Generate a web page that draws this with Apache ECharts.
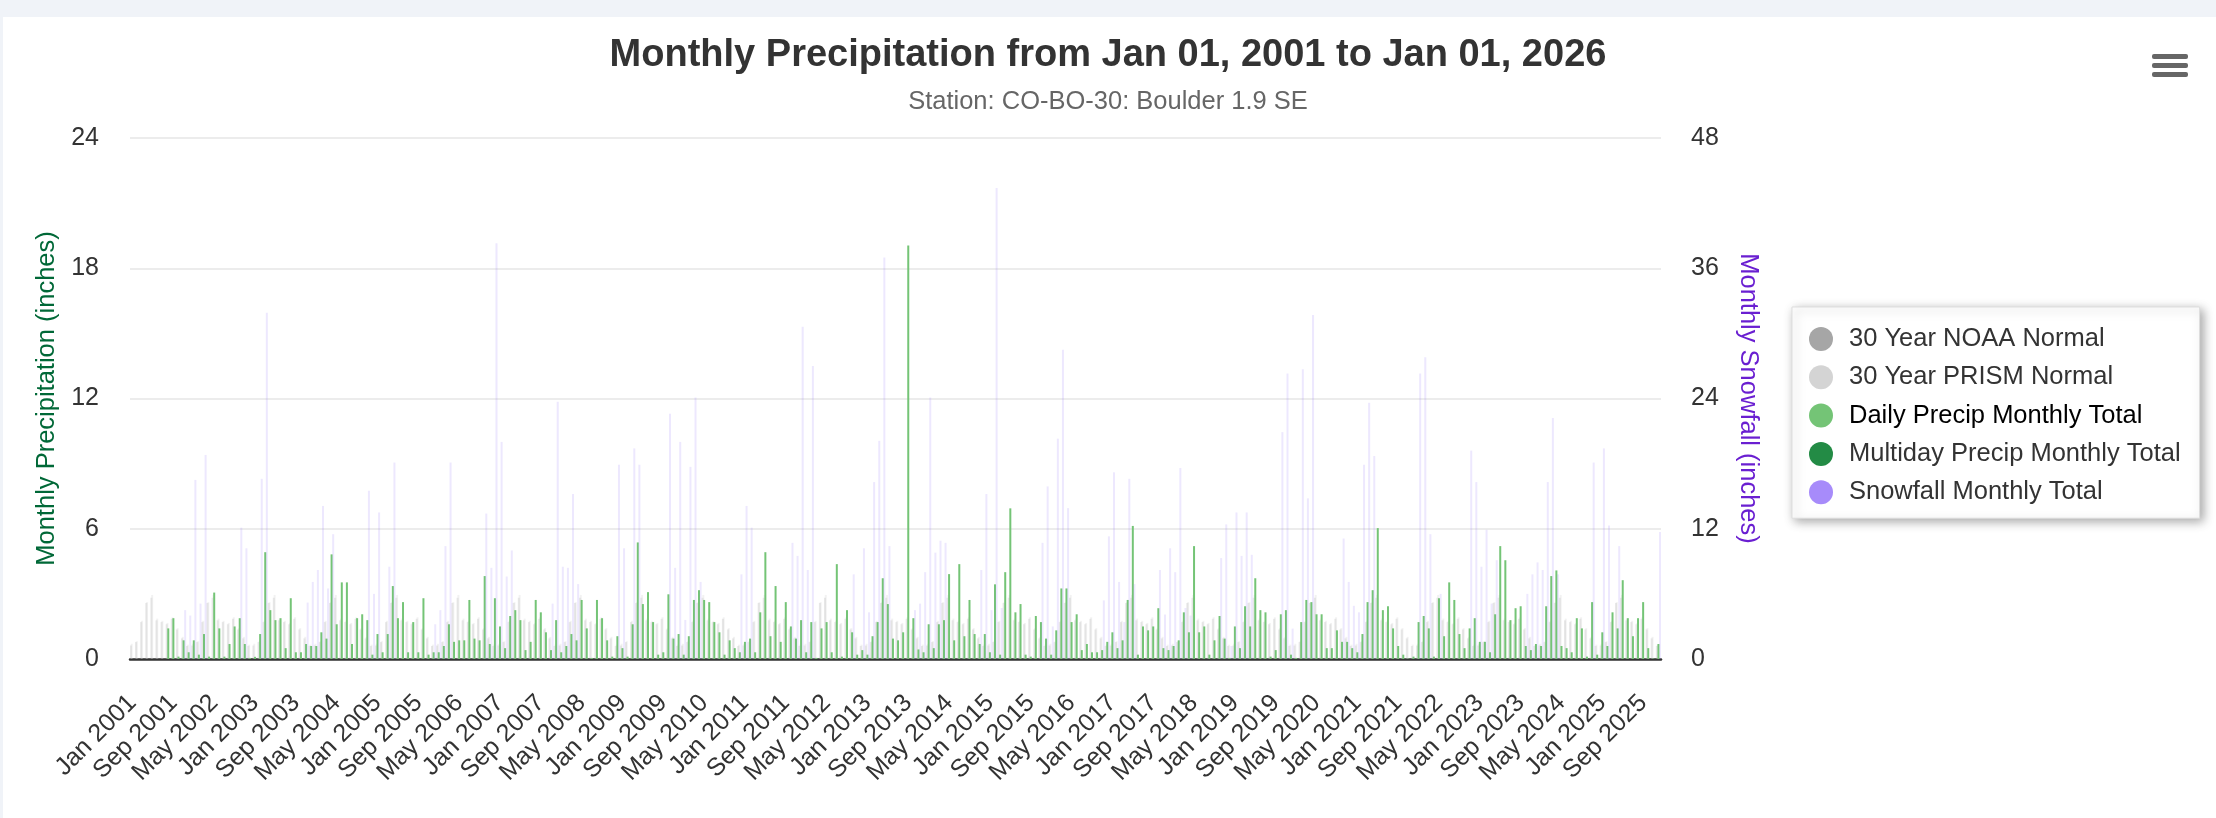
<!DOCTYPE html>
<html lang="en" style="height: 100%; width: 100%; overflow: hidden">
<head>
    <meta charset="UTF-8">
    <title>Monthly Precipitation</title>
    <script type="text/javascript" src="https://cdn.jsdelivr.net/npm/echarts@6/dist/echarts.min.js"></script>
</head>
<body style="height: 100%; width: 100%; margin: 0; background: #fff">
<div id="container" style="height: 818px; width: 2216px"></div>
</body>
</html>

<script type="text/javascript">

    var monthNames = ['Jan', 'Feb', 'Mar', 'Apr', 'May', 'Jun', 'Jul', 'Aug', 'Sep', 'Oct', 'Nov', 'Dec'];
    var years = [2001, 2002, 2003, 2004, 2005, 2006, 2007, 2008, 2009, 2010, 2011, 2012, 2013,
        2014, 2015, 2016, 2017, 2018, 2019, 2020, 2021, 2022, 2023, 2024, 2025];

    // 30 year normals, one value per calendar month (inches)
    var noaaNormal = [0.62, 0.78, 1.70, 2.58, 2.82, 1.78, 1.70, 1.60, 1.85, 1.36, 0.95, 0.60];
    var prismNormal = [0.70, 0.82, 1.76, 2.62, 2.95, 1.86, 1.76, 1.66, 1.92, 1.42, 1.02, 0.66];

    // daily precip monthly totals, one row per year (inches)
    var dailyPrecip = [
        null, null, null, null, null, null, null, 1.41, 1.88, 0.11, 0.86, 0.31,
        0.86, 0.20, 1.15, 0.11, 3.06, 1.41, 0.11, 0.69, 1.50, 1.88, 0.69, 0.05,
        0.10, 1.15, 4.92, 2.25, 1.79, 1.88, 0.50, 2.80, 0.31, 0.31, 0.69, 0.60,
        0.60, 1.23, 0.94, 4.82, 1.60, 3.53, 3.53, 0.69, 1.88, 2.06, 1.79, 0.20,
        1.15, 0.31, 1.15, 3.36, 1.88, 2.62, 0.31, 1.70, 0.31, 2.80, 0.20, 0.31,
        0.31, 0.60, 1.60, 0.79, 0.86, 0.86, 2.72, 0.94, 0.86, 3.82, 0.69, 2.80,
        1.50, 0.50, 1.98, 2.25, 1.79, 0.41, 0.79, 2.72, 2.15, 1.23, 0.41, 1.79,
        0.31, 0.60, 1.15, 0.86, 2.72, 1.41, 0.05, 2.72, 1.88, 0.86, 0.11, 1.05,
        0.50, 0.11, 1.60, 5.37, 2.53, 3.08, 1.70, 0.20, 0.31, 2.98, 0.94, 1.15,
        0.20, 1.05, 2.72, 3.17, 2.72, 2.62, 1.70, 1.23, 0.20, 0.86, 0.50, 0.31,
        0.79, 0.94, 0.31, 2.15, 4.92, 1.05, 3.36, 0.79, 2.62, 1.50, 0.94, 1.79,
        0.31, 1.70, 0.05, 1.41, 1.70, 0.31, 4.37, 0.11, 2.25, 1.23, 0.20, 0.41,
        0.20, 1.05, 1.70, 3.72, 2.53, 0.94, 0.86, 1.23, 19.05, 1.88, 0.44, 0.31,
        1.60, 0.50, 1.60, 1.79, 3.91, 0.86, 4.37, 1.05, 2.72, 1.15, 0.69, 1.15,
        0.31, 3.44, 0.20, 4.00, 6.94, 2.15, 2.53, 0.20, 0.11, 1.98, 1.70, 0.94,
        0.20, 1.32, 3.25, 3.25, 1.70, 2.06, 0.41, 0.69, 0.31, 0.31, 0.41, 0.79,
        1.23, 0.50, 0.86, 2.72, 6.13, 0.20, 1.50, 1.32, 1.50, 2.34, 0.50, 0.41,
        0.60, 0.86, 2.15, 1.23, 5.20, 1.23, 1.50, 0.20, 0.86, 1.98, 0.94, 0.05,
        1.50, 0.50, 2.43, 1.50, 3.72, 2.25, 2.15, 0.11, 0.41, 2.06, 2.25, 0.20,
        0.05, 1.70, 2.72, 2.62, 2.06, 2.06, 0.50, 0.50, 1.32, 0.79, 0.79, 0.50,
        0.31, 1.15, 2.62, 3.17, 6.03, 2.25, 2.43, 1.41, 0.60, 0.20, 0.02, 0.11,
        1.70, 1.98, 1.41, 0.11, 2.80, 1.05, 3.53, 2.72, 1.15, 0.50, 1.41, 1.88,
        0.79, 0.79, 0.31, 2.06, 5.20, 4.55, 1.79, 2.34, 2.43, 0.60, 0.41, 0.69,
        0.60, 2.43, 3.82, 4.08, 0.60, 0.50, 0.31, 1.88, 1.41, 0.11, 2.62, 0.20,
        1.23, 0.60, 2.15, 1.41, 3.63, 1.88, 1.05, 1.88, 2.62, 0.50, 0.02, 0.69
    ];

    // multiday precip monthly totals (none reported in this period)
    var multidayPrecip = [];

    // snowfall monthly totals, one row per year (inches)
    var snowfall = [
        0, 0, 0, 0, 0, 0, 0, 0, 0, 0, 4.5, 4.0,
        16.5, 5.1, 18.8, 0, 0, 0, 0, 0, 0, 12.1, 10.2, 0,
        0, 16.6, 31.9, 0, 0, 0, 0, 0, 0, 0, 5.2, 7.1,
        8.2, 14.1, 6.5, 11.5, 0, 0, 0, 0, 0, 0, 15.5, 6.0,
        13.5, 0, 8.5, 18.1, 0, 0, 0, 0, 0, 0, 0, 3.2,
        4.5, 10.4, 18.1, 0, 0, 0, 0, 0, 0, 13.4, 8.4, 38.3,
        20.0, 7.6, 10.0, 0, 0, 0, 0, 0, 0, 0, 5.1, 23.7,
        8.5, 8.4, 15.2, 6.9, 0, 0, 0, 0, 0, 0, 0, 17.9,
        10.2, 0, 19.4, 17.9, 0, 0, 0, 0, 0, 22.6, 8.4, 20.0,
        3.6, 17.7, 24.1, 7.1, 0, 0, 0, 0, 0, 0, 0, 7.8,
        14.1, 12.1, 0, 0, 0, 0, 0, 0, 0, 10.7, 9.5, 30.6,
        8.2, 27.0, 0, 0, 0, 0, 0, 0, 0, 7.8, 0, 10.2,
        4.3, 16.3, 20.1, 37.0, 10.4, 0, 0, 0, 0, 4.5, 5.1, 8.0,
        24.1, 9.8, 10.9, 10.7, 0, 0, 0, 0, 0, 0, 8.2, 15.2,
        4.5, 43.4, 4.7, 0, 0, 0, 0, 0, 0, 0, 10.7, 15.9,
        3.0, 20.3, 28.5, 13.9, 0, 0, 0, 0, 0, 0, 5.4, 11.3,
        17.2, 7.1, 3.4, 16.6, 6.9, 0, 0, 0, 0, 8.2, 4.1, 10.2,
        8.0, 17.6, 4.7, 4.0, 0, 0, 0, 0, 0, 9.3, 12.4, 1.2,
        13.5, 9.5, 13.5, 9.6, 0, 0, 0, 0, 0, 20.9, 26.3, 2.8,
        0, 26.7, 14.8, 31.7, 0, 0, 0, 0, 0, 11.1, 7.1, 4.9,
        4.3, 17.9, 23.6, 18.7, 0, 0, 0, 0, 0, 0, 0, 0,
        26.3, 27.8, 11.5, 0, 6.0, 0, 0, 0, 0, 0, 19.2, 16.3,
        8.5, 11.9, 5.1, 9.1, 0, 0, 0, 0, 0, 6.0, 7.8, 8.9,
        8.2, 16.3, 22.2, 7.8, 0, 0, 0, 0, 0, 0, 18.1, 0,
        19.4, 12.3, 0, 10.4, 0, 0, 0, 0, 0, 0, 0, 11.7
    ];

    var categories = [];
    var noaaData = [];
    var prismData = [];
    years.forEach(function (y) {
        monthNames.forEach(function (m, i) {
            categories.push(m + ' ' + y);
            noaaData.push(noaaNormal[i]);
            prismData.push(prismNormal[i]);
        });
    });

    var font = 'Liberation Sans, Arial, Helvetica, sans-serif';

    var dom = document.getElementById("container");
    var myChart = echarts.init(dom);

    var option = {
        animation: false,
        backgroundColor: '#fff',
        textStyle: {fontFamily: font},
        title: [{
            text: 'Monthly Precipitation from Jan 01, 2001 to Jan 01, 2026',
            left: 'center',
            top: 37,
            padding: 0,
            textStyle: {fontSize: 38, fontWeight: 'bold', color: '#333', fontFamily: font}
        }, {
            text: 'Station: CO-BO-30: Boulder 1.9 SE',
            left: 'center',
            top: 89,
            padding: 0,
            textStyle: {fontSize: 25.5, fontWeight: 'normal', color: '#666', fontFamily: font}
        }],
        legend: {
            orient: 'vertical',
            left: 1792,
            top: 307,
            padding: [19, 19, 13, 17],
            itemGap: 12.3,
            itemWidth: 24,
            itemHeight: 24,
            icon: 'circle',
            selectedMode: false,
            backgroundColor: '#fff',
            borderColor: '#dddddd',
            borderWidth: 1,
            shadowBlur: 10,
            shadowColor: 'rgba(0, 0, 0, 0.35)',
            shadowOffsetX: 3,
            shadowOffsetY: 3,
            textStyle: {fontSize: 25.5, color: '#333', fontFamily: font, padding: [0, 0, 0, 11]},
            data: [
                {name: '30 Year NOAA Normal', itemStyle: {color: '#a6a6a6', opacity: 1}},
                {name: '30 Year PRISM Normal', itemStyle: {color: '#d4d4d4', opacity: 1}},
                {name: 'Daily Precip Monthly Total', itemStyle: {color: '#74c476', opacity: 1},
                    textStyle: {color: '#000'}},
                {name: 'Multiday Precip Monthly Total', itemStyle: {color: '#238b45', opacity: 1}},
                {name: 'Snowfall Monthly Total', itemStyle: {color: '#a78bfa', opacity: 1}}
            ]
        },
        grid: {
            left: 130,
            right: 555,
            top: 138,
            bottom: 159,
            outerBoundsMode: 'none'
        },
        xAxis: {
            type: 'category',
            data: categories,
            axisLine: {lineStyle: {color: '#333', width: 2.5}},
            axisTick: {show: false},
            axisLabel: {
                interval: 7,
                rotate: 45,
                fontSize: 25,
                color: '#333',
                margin: 40,
                fontFamily: font
            },
            splitLine: {show: false}
        },
        yAxis: [{
            type: 'value',
            min: 0,
            max: 24,
            interval: 6,
            name: 'Monthly Precipitation (inches)',
            nameLocation: 'middle',
            nameGap: 70,
            nameTextStyle: {fontSize: 25.5, color: '#006837', fontFamily: font},
            axisLine: {show: false},
            axisTick: {show: false},
            axisLabel: {fontSize: 25, color: '#333', margin: 31, fontFamily: font},
            splitLine: {lineStyle: {color: '#e6e6e6', width: 1.5}}
        }, {
            type: 'value',
            min: 0,
            max: 48,
            interval: 12,
            name: 'Monthly Snowfall (inches)',
            nameLocation: 'middle',
            nameGap: 74,
            nameRotate: -90,
            nameTextStyle: {fontSize: 25.5, color: '#6a1fd1', fontFamily: font},
            axisLine: {show: false},
            axisTick: {show: false},
            axisLabel: {fontSize: 25, color: '#333', margin: 30, fontFamily: font},
            splitLine: {show: false}
        }],
        series: [{
            name: '30 Year NOAA Normal',
            type: 'bar',
            barWidth: 2,
            barGap: '-60%',
            data: noaaData,
            itemStyle: {color: 'rgba(166, 166, 166, 0.25)'},
            emphasis: {disabled: true}
        }, {
            name: '30 Year PRISM Normal',
            type: 'bar',
            barWidth: 2,
            barGap: '-60%',
            data: prismData,
            itemStyle: {color: 'rgba(212, 212, 212, 0.3)'},
            emphasis: {disabled: true}
        }, {
            name: 'Daily Precip Monthly Total',
            type: 'bar',
            barWidth: 2,
            barGap: '-60%',
            data: dailyPrecip,
            itemStyle: {color: '#74c476'},
            emphasis: {disabled: true}
        }, {
            name: 'Multiday Precip Monthly Total',
            type: 'bar',
            barWidth: 2,
            barGap: '-60%',
            data: multidayPrecip,
            itemStyle: {color: '#238b45'},
            emphasis: {disabled: true}
        }, {
            name: 'Snowfall Monthly Total',
            type: 'bar',
            yAxisIndex: 1,
            barWidth: 2,
            barGap: '-60%',
            data: snowfall,
            itemStyle: {color: 'rgba(167, 139, 250, 0.2)'},
            emphasis: {disabled: true}
        }],
        graphic: [
            {type: 'rect', shape: {x: 0, y: 0, width: 2216, height: 17}, style: {fill: '#f0f3f8'}, silent: true},
            {type: 'rect', shape: {x: 0, y: 0, width: 3, height: 818}, style: {fill: '#f0f3f8'}, silent: true},
            {type: 'rect', shape: {x: 2152, y: 54, width: 36, height: 5, r: 2}, style: {fill: '#666'}, silent: true},
            {type: 'rect', shape: {x: 2152, y: 63, width: 36, height: 5, r: 2}, style: {fill: '#666'}, silent: true},
            {type: 'rect', shape: {x: 2152, y: 72, width: 36, height: 5, r: 2}, style: {fill: '#666'}, silent: true}
        ]
    };

    myChart.setOption(option);

</script>
